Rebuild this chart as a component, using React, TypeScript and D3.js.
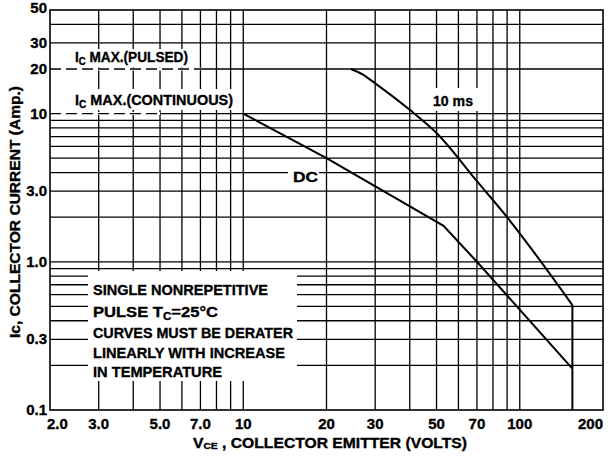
import * as d3 from "d3";

// grid values (log axes)
const xGrid = [3, 4, 5, 6, 7, 8, 9, 10, 20, 30, 40, 50, 60, 70, 80, 90, 100];
const yGrid = [0.2, 0.3, 0.4, 0.5, 0.6, 0.7, 0.8, 0.9, 1, 2, 3, 4, 5, 6, 7, 8, 9, 10, 20, 30, 40];
const xTicks = [2, 3, 5, 7, 10, 20, 30, 50, 70, 100, 200];
const xTickLabels = ["2.0", "3.0", "5.0", "7.0", "10", "20", "30", "50", "70", "100", "200"];
const yTicks = [0.1, 0.3, 1, 3, 10, 20, 30, 50];
const yTickLabels = ["0.1", "0.3", "1.0", "3.0", "10", "20", "30", "50"];

// safe operating area curves [Vce, Ic]
const dcCurve: [number, number][] = [[10, 10], [20, 5], [53, 1.75], [70, 1.0], [155, 0.19]];
const pulse10ms: [number, number][] = [
  [24.5, 20], [27, 18.4], [30, 16], [40, 10.6], [50, 7.4], [70, 3.5], [90, 2.0], [155, 0.51],
];
const cutoff: [number, number][] = [[155, 0.51], [155, 0.1]];
const icMaxPulsed = { v: [2, 7], i: 20 };
const icMaxCont = { v: [2, 5], i: 10 };

const W = 610;
const H = 460;
const PLOT = { left: 50, right: 603, top: 10, bottom: 410 };
const FONT = "'Liberation Sans', Arial, Helvetica, sans-serif";

export default function App() {
  const x = d3.scaleLog().domain([2, 200]).range([PLOT.left, PLOT.right]);
  const y = d3.scaleLog().domain([0.1, 50]).range([PLOT.bottom, PLOT.top]);
  const line = d3
    .line<[number, number]>()
    .x((d) => x(d[0]))
    .y((d) => y(d[1]));
  const smooth = line.curve(d3.curveMonotoneX);
  const straight = d3
    .line<[number, number]>()
    .x((d) => x(d[0]))
    .y((d) => y(d[1]));

  // white patches behind the labels (the gridlines stop there)
  const masks = [
    { x: 70, y: 49, w: 126, h: 18 },
    { x: 68, y: 89, w: 170, h: 21 },
    { x: 429, y: 88, w: 51, h: 23 },
    { x: 288, y: 167, w: 31, h: 19 },
    { x: 88, y: 271, w: 209, h: 110 },
  ];

  const lbl = {
    fontFamily: FONT,
    fontWeight: 700,
    fill: "#000",
    stroke: "#000",
    strokeWidth: 0.35,
  } as const;

  return (
    <svg
      width={W}
      height={H}
      style={{ position: "absolute", left: 0, top: 0, background: "#fff" }}
    >
      <rect width={W} height={H} fill="#fff" />

      {/* grid */}
      <g stroke="#000" strokeWidth={1.3}>
        {xGrid.map((v) => (
          <line key={"gx" + v} x1={x(v)} x2={x(v)} y1={PLOT.top} y2={PLOT.bottom} />
        ))}
        {yGrid.map((v) => (
          <line key={"gy" + v} x1={PLOT.left} x2={PLOT.right} y1={y(v)} y2={y(v)} />
        ))}
      </g>

      {masks.map((m, i) => (
        <rect key={"m" + i} x={m.x} y={m.y} width={m.w} height={m.h} fill="#fff" />
      ))}

      {/* Ic max lines, dashed near the axis */}
      {[icMaxPulsed, icMaxCont].map((m, i) => (
        <g key={"ic" + i}>
          <line x1={x(m.v[0])} x2={x(m.v[1])} y1={y(m.i)} y2={y(m.i)} stroke="#fff" strokeWidth={3} />
          <line
            x1={x(m.v[0])}
            x2={x(m.v[1])}
            y1={y(m.i)}
            y2={y(m.i)}
            stroke="#000"
            strokeWidth={1.4}
            strokeDasharray="11,5"
          />
        </g>
      ))}

      {/* border */}
      <rect
        x={PLOT.left}
        y={PLOT.top}
        width={PLOT.right - PLOT.left}
        height={PLOT.bottom - PLOT.top}
        fill="none"
        stroke="#000"
        strokeWidth={1.6}
      />

      {/* curves */}
      <path d={straight(dcCurve) ?? ""} fill="none" stroke="#000" strokeWidth={2} />
      <path d={smooth(pulse10ms) ?? ""} fill="none" stroke="#000" strokeWidth={2} />
      <path d={straight(cutoff) ?? ""} fill="none" stroke="#000" strokeWidth={2} />

      {/* y tick labels */}
      {yTicks.map((v, i) => (
        <text
          key={"yt" + v}
          x={PLOT.left - 3}
          y={v === 50 ? y(v) + 3 : y(v) + 5}
          textAnchor="end"
          fontSize={15}
          {...lbl}
        >
          {yTickLabels[i]}
        </text>
      ))}

      {/* x tick labels */}
      {xTicks.map((v, i) => {
        const first = i === 0;
        const last = i === xTicks.length - 1;
        return (
          <text
            key={"xt" + v}
            x={first ? x(v) - 3 : x(v)}
            y={429}
            textAnchor={first ? "start" : last ? "end" : "middle"}
            fontSize={15}
            {...lbl}
          >
            {xTickLabels[i]}
          </text>
        );
      })}

      {/* axis titles */}
      <text x={193} y={448} fontSize={14.5} textLength={274} lengthAdjust="spacingAndGlyphs" {...lbl}>
        V<tspan fontSize={9.5} dy={1}>CE</tspan>
        <tspan dy={-1}> , COLLECTOR EMITTER (VOLTS)</tspan>
      </text>
      <text
        transform={`translate(20,${(PLOT.top + PLOT.bottom) / 2 + 2}) rotate(-90)`}
        textAnchor="middle"
        fontSize={14}
        textLength={252}
        lengthAdjust="spacingAndGlyphs"
        {...lbl}
      >
        Ic, COLLECTOR  CURRENT (Amp.)
      </text>

      {/* curve labels */}
      <text x={75} y={62} fontSize={15} textLength={113} lengthAdjust="spacingAndGlyphs" {...lbl}>
        I<tspan fontSize={10.5} dy={3}>C</tspan>
        <tspan dy={-3}> MAX.(PULSED)</tspan>
      </text>
      <text x={75} y={105} fontSize={15} textLength={158} lengthAdjust="spacingAndGlyphs" {...lbl}>
        I<tspan fontSize={10.5} dy={3}>C</tspan>
        <tspan dy={-3}> MAX.(CONTINUOUS)</tspan>
      </text>
      <text x={433} y={106} fontSize={15.5} textLength={40} lengthAdjust="spacingAndGlyphs" {...lbl}>
        10 ms
      </text>
      <text x={293} y={182} fontSize={15} textLength={25} lengthAdjust="spacingAndGlyphs" {...lbl}>
        DC
      </text>

      {/* note */}
      <text x={93} y={295} fontSize={15} textLength={175} lengthAdjust="spacingAndGlyphs" {...lbl}>
        SINGLE NONREPETITIVE
      </text>
      <text x={93} y={317} fontSize={15} textLength={125} lengthAdjust="spacingAndGlyphs" {...lbl}>
        PULSE T<tspan fontSize={10.5} dy={3}>C</tspan>
        <tspan dy={-3}>=25°C</tspan>
      </text>
      <text x={93} y={338} fontSize={15} textLength={200} lengthAdjust="spacingAndGlyphs" {...lbl}>
        CURVES MUST BE DERATER
      </text>
      <text x={93} y={358} fontSize={15} textLength={192} lengthAdjust="spacingAndGlyphs" {...lbl}>
        LINEARLY WITH INCREASE
      </text>
      <text x={93} y={377} fontSize={15} textLength={129} lengthAdjust="spacingAndGlyphs" {...lbl}>
        IN TEMPERATURE
      </text>
    </svg>
  );
}
